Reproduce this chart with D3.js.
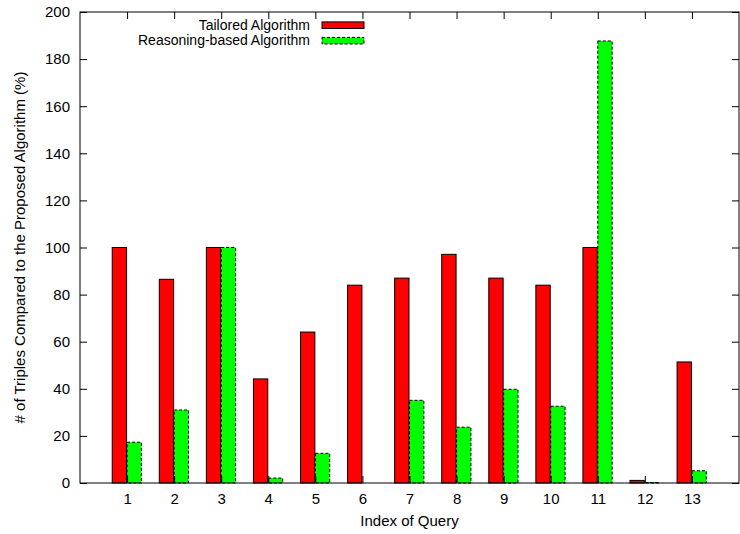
<!DOCTYPE html>
<html>
<head>
<meta charset="utf-8">
<script src="https://cdn.jsdelivr.net/npm/d3@7"></script>
<style>
  body { margin: 0; background: #fff; }
  text { font-family: "Liberation Sans", Arial, sans-serif; }
</style>
</head>
<body>
<div id="box"></div>
<script>
// data
const queries = ['1','2','3','4','5','6','7','8','9','10','11','12','13'];
const tailored = [100, 86.5, 100, 44.2, 64.1, 84, 87, 97.1, 87, 84, 100, 1.1, 51.4];
const reasoning = [17.3, 31, 100, 2.1, 12.6, 0, 35.1, 23.7, 39.8, 32.6, 187.7, 0.2, 5.2];
const yTicks = [0, 20, 40, 60, 80, 100, 120, 140, 160, 180, 200];

const width = 740, height = 534;
const padLeft = 80, padRight = 1, padTop = 12, padBottom = 51;
const fontSize = '15px';

const svg = d3.select('#box').append('svg')
  .attr('width', width)
  .attr('height', height);

const x = d3.scaleLinear().domain([0, 14]).range([padLeft, width - padRight]);
const y = d3.scaleLinear().domain([0, 200]).range([height - padBottom, padTop]);
const barW = (x(1) - x(0)) * 0.305;

const rows = queries.map((q, i) => ({ q: q, i: i + 1, t: tailored[i], r: reasoning[i] }));

// red bars
svg.selectAll('.red').data(rows)
  .join('rect')
  .attr('class', 'red')
  .attr('x', d => x(d.i) - barW - 0.5)
  .attr('y', d => y(d.t))
  .attr('width', barW)
  .attr('height', d => y(0) - y(d.t))
  .style('fill', '#ff0000')
  .style('stroke', '#000')
  .style('stroke-width', 1);

// green bars, dashed border
svg.selectAll('.green').data(rows)
  .join('rect')
  .attr('class', 'green')
  .attr('x', d => x(d.i))
  .attr('y', d => y(d.r))
  .attr('width', barW)
  .attr('height', d => y(0) - y(d.r))
  .style('fill', '#00ff00')
  .style('stroke', '#000')
  .style('stroke-width', 1)
  .style('stroke-dasharray', '3,2');

// frame
svg.append('rect')
  .attr('x', x(0)).attr('y', y(200))
  .attr('width', x(14) - x(0)).attr('height', y(0) - y(200))
  .style('fill', 'none').style('stroke', '#000').style('stroke-width', 1);

// axes with inward ticks, mirrored
const tickLen = 7;
const yAxis = d3.axisLeft(y).tickValues(yTicks).tickSize(-tickLen).tickPadding(10);
const yAxisR = d3.axisRight(y).tickValues(yTicks).tickSize(-tickLen).tickFormat('');
const xAxis = d3.axisBottom(x).tickValues(rows.map(d => d.i)).tickFormat((d, i) => queries[i])
  .tickSize(-tickLen).tickPadding(10);
const xAxisT = d3.axisTop(x).tickValues(rows.map(d => d.i)).tickSize(-tickLen).tickFormat('');

function styleAxis(g) {
  g.select('.domain').remove();
  g.selectAll('line').style('stroke', '#000');
  g.selectAll('text').style('font-size', fontSize).style('fill', '#000')
    .style('font-family', '"Liberation Sans", Arial, sans-serif');
}

svg.append('g').attr('transform', `translate(${x(0)},0)`).call(yAxis).call(styleAxis);
svg.append('g').attr('transform', `translate(${x(14)},0)`).call(yAxisR).call(styleAxis);
svg.append('g').attr('transform', `translate(0,${y(0)})`).call(xAxis).call(styleAxis);
svg.append('g').attr('transform', `translate(0,${y(200)})`).call(xAxisT).call(styleAxis);

// axis titles
svg.append('text')
  .attr('x', x(7)).attr('y', 526)
  .attr('text-anchor', 'middle')
  .style('font-size', fontSize)
  .text('Index of Query');

svg.append('text')
  .attr('transform', `translate(25,${(y(0) + y(200)) / 2}) rotate(-90)`)
  .attr('text-anchor', 'middle')
  .style('font-size', fontSize)
  .text('# of Triples Compared to the Proposed Algorithm (%)');

// legend
const legend = [
  { name: 'Tailored Algorithm', fill: '#ff0000', dash: null },
  { name: 'Reasoning-based Algorithm', fill: '#00ff00', dash: '3,2' }
];
const lg = svg.selectAll('.legend').data(legend)
  .join('g')
  .attr('class', 'legend')
  .attr('transform', (d, i) => `translate(0,${25.2 + i * 15.5})`);

lg.append('text')
  .attr('x', 310).attr('y', 4.5)
  .attr('text-anchor', 'end')
  .style('font-size', '14px')
  .text(d => d.name);

lg.append('rect')
  .attr('x', 322).attr('y', -3.3)
  .attr('width', 42).attr('height', 6.6)
  .style('fill', d => d.fill)
  .style('stroke', '#000')
  .style('stroke-dasharray', d => d.dash);
</script>
</body>
</html>
